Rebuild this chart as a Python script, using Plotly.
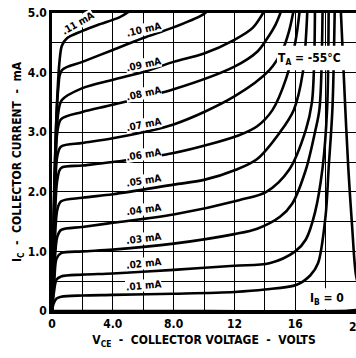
import plotly.graph_objects as go

# Base current labels and curves (V_CE in volts, I_C in mA)
ib_labels = [".01 mA", ".02 mA", ".03 mA", ".04 mA", ".05 mA", ".06 mA",
             ".07 mA", ".08 mA", ".09 mA", ".10 mA", ".11 mA"]

v_ib0 = [0, 10, 19.8, 20.6, 20.3, 20.0, 19.75, 19.5, 19.3, 19.0]
i_ib0 = [0, 0.0, 0.01, 0.05, 0.3, 0.6, 1.4, 2.37, 3.37, 5.05]

v_01 = [0, 0.1, 0.3, 0.6, 2, 4, 8, 12, 14, 16.1, 17.0, 17.5, 18.0, 18.2, 18.45, 18.6]
i_01 = [0, 0.12, 0.21, 0.24, 0.26, 0.27, 0.29, 0.32, 0.36, 0.44, 0.6, 0.8, 1.6, 2.4, 3.4, 5.05]

v_02 = [0, 0.12, 0.3, 0.6, 2, 4, 8, 12, 14.3, 16.0, 16.7, 17.3, 17.8, 18.1, 18.2]
i_02 = [0, 0.3, 0.53, 0.58, 0.61, 0.63, 0.69, 0.76, 0.8, 1.0, 1.2, 1.65, 2.4, 3.4, 5.05]

v_03 = [0, 0.15, 0.3, 0.6, 2, 4, 8, 12, 13.5, 15.0, 15.8, 16.7, 17.3, 17.6, 17.8]
i_03 = [0, 0.5, 0.88, 0.97, 1.0, 1.03, 1.13, 1.29, 1.38, 1.58, 1.8, 2.37, 3.0, 3.4, 5.05]

v_04 = [0, 0.15, 0.35, 0.6, 2, 4, 8, 12.3, 14.1, 15.6, 16.7, 17.1, 17.25, 17.3]
i_04 = [0, 0.7, 1.25, 1.36, 1.41, 1.48, 1.62, 1.86, 2.0, 2.37, 3.04, 3.5, 4.2, 5.05]

v_05 = [0, 0.15, 0.35, 0.6, 2, 4, 8, 10, 12.1, 13.5, 15.0, 15.9, 16.5, 16.8]
i_05 = [0, 0.9, 1.7, 1.84, 1.9, 1.96, 2.12, 2.2, 2.37, 2.55, 3.0, 3.37, 4.0, 5.05]

v_06 = [0, 0.15, 0.35, 0.6, 2, 4, 8, 12.3, 13.5, 14.5, 15.4, 16.0, 16.3]
i_06 = [0, 1.2, 2.2, 2.4, 2.44, 2.5, 2.65, 2.95, 3.1, 3.37, 3.9, 4.5, 5.05]

v_07 = [0, 0.15, 0.35, 0.6, 2, 4, 8, 12, 14.3, 15.2, 15.6, 15.9]
i_07 = [0, 1.4, 2.6, 2.76, 2.82, 2.9, 3.13, 3.6, 4.04, 4.4, 4.7, 5.05]

v_08 = [0, 0.15, 0.35, 0.6, 2, 4, 8, 12, 13.5, 14.1, 14.7, 15.1]
i_08 = [0, 1.6, 3.0, 3.22, 3.34, 3.46, 3.72, 4.1, 4.35, 4.55, 4.8, 5.05]

v_09 = [0, 0.15, 0.4, 0.65, 2, 4, 6, 8, 10, 12, 13.2, 14.0]
i_09 = [0, 1.8, 3.3, 3.54, 3.74, 3.88, 4.01, 4.18, 4.32, 4.55, 4.75, 5.05]

v_10 = [0, 0.15, 0.4, 0.65, 2, 4, 6, 7.9, 9.9, 10.3]
i_10 = [0, 2.0, 3.7, 4.04, 4.18, 4.38, 4.58, 4.75, 4.97, 5.05]

v_11 = [0, 0.15, 0.35, 0.5, 0.65, 1.0, 2, 3, 4.46, 5.2]
i_11 = [0, 2.1, 3.6, 4.2, 4.45, 4.58, 4.7, 4.8, 4.93, 5.05]

curves = [(v_ib0, i_ib0), (v_01, i_01), (v_02, i_02), (v_03, i_03), (v_04, i_04),
          (v_05, i_05), (v_06, i_06), (v_07, i_07), (v_08, i_08), (v_09, i_09),
          (v_10, i_10), (v_11, i_11)]

# label anchor points (V, I) and angles
label_v = [6.0, 6.0, 6.0, 6.0, 6.0, 6.0, 6.0, 6.0, 6.0, 6.0, 1.65]
label_i = [0.42, 0.8, 1.22, 1.7, 2.19, 2.62, 3.13, 3.65, 4.13, 4.72, 4.83]
label_ang = [-5, -6, -7, -8, -9, -9, -11, -12, -12, -13, -30]

x_tickvals = [0, 4, 8, 12, 16, 20]
x_ticktext = ["0", "4.0", "8.0", "12", "16", "20"]
y_tickvals = [0, 1, 2, 3, 4, 5]
y_ticktext = ["0", "1.0", "2.0", "3.0", "4.0", "5.0"]

FONT = "Liberation Sans Narrow, DejaVu Sans Condensed, Arial Narrow, sans-serif"

fig = go.Figure()
for v, i in curves:
    fig.add_trace(go.Scatter(x=v, y=i, mode="lines",
                             line=dict(color="black", width=2.6, shape="spline", smoothing=0.9),
                             hoverinfo="skip", showlegend=False, cliponaxis=True))

for t, lv, li, a in zip(ib_labels, label_v, label_i, label_ang):
    fig.add_annotation(x=lv, y=li, text="<b>" + t + "</b>", showarrow=False,
                       textangle=a, bgcolor="white", borderpad=0,
                       font=dict(family=FONT, size=10, color="black"))

# white label boxes
fig.add_shape(type="rect", x0=14.8, x1=20.2, y0=4.04, y1=4.45, layer="above",
              fillcolor="white", line=dict(width=0))
fig.add_annotation(x=16.95, y=4.22, text="<b>T<sub>A</sub> = -55°C</b>", showarrow=False,
                   font=dict(family=FONT, size=12, color="black"))
fig.add_shape(type="rect", x0=16.9, x1=19.4, y0=0.03, y1=0.38, layer="above",
              fillcolor="white", line=dict(width=0))
fig.add_annotation(x=18.1, y=0.2, text="<b>I<sub>B</sub> = 0</b>", showarrow=False,
                   font=dict(family=FONT, size=12, color="black"))

# last x tick label, partly outside the window as in the reference
fig.add_annotation(x=x_tickvals[-1], xref="x", y=0, yref="paper", yanchor="top", yshift=-7,
                   text="<b>" + x_ticktext[-1] + "</b>",
                   showarrow=False, xanchor="center",
                   font=dict(family=FONT, size=12, color="black"))

fig.update_layout(
    width=356, height=358,
    margin=dict(l=52, r=0, t=13, b=47),
    paper_bgcolor="white", plot_bgcolor="white",
    font=dict(family=FONT, size=11, color="black"),
    xaxis=dict(range=[0, 20], tickvals=x_tickvals[:-1], ticktext=x_ticktext[:-1],
               showgrid=True, gridcolor="black", gridwidth=1.3,
               minor=dict(dtick=2, tick0=0, showgrid=True, gridcolor="black", gridwidth=1.3),
               showline=True, linecolor="black", linewidth=2.5, mirror=True,
               ticks="", zeroline=False, tickfont=dict(family=FONT, size=12, weight="bold"),
               title=dict(text="<b>V<sub>CE</sub>  -  COLLECTOR VOLTAGE  -  VOLTS</b>",
                          font=dict(family=FONT, size=12), standoff=6)),
    yaxis=dict(range=[0, 5], tickvals=y_tickvals, ticktext=y_ticktext,
               showgrid=True, gridcolor="black", gridwidth=1.3,
               minor=dict(dtick=0.5, tick0=0, showgrid=True, gridcolor="black", gridwidth=1.3),
               showline=True, linecolor="black", linewidth=2.5,
               ticks="", zeroline=False, tickfont=dict(family=FONT, size=12, weight="bold"),
               title=dict(text="<b>I<sub>C</sub>  -  COLLECTOR CURRENT  -  mA</b>",
                          font=dict(family=FONT, size=12), standoff=4)),
)

fig.write_html("out.html")
